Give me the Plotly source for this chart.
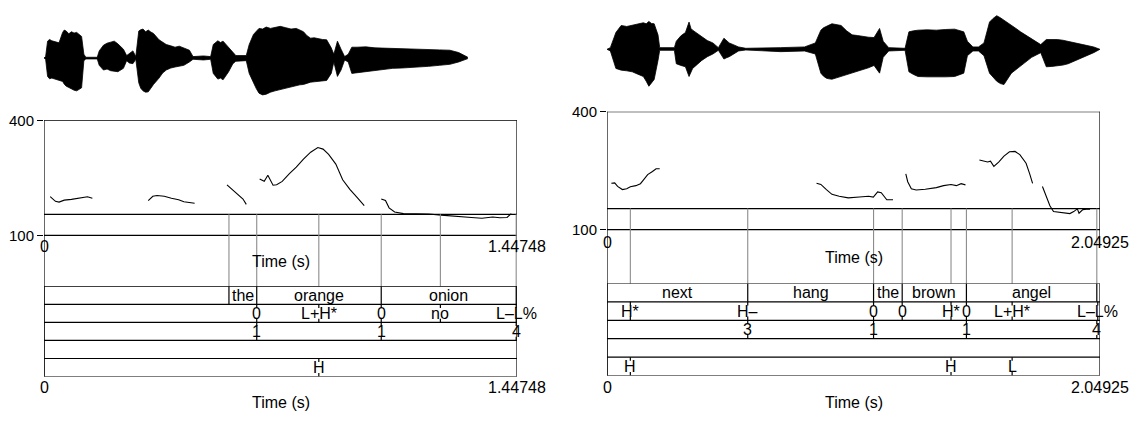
import plotly.graph_objects as go

W, H = 1144, 421
FONT = "Liberation Sans, Arial, Helvetica, sans-serif"

# ---------------- data ----------------
left_dur = 1.44748
right_dur = 2.04925

# waveform envelopes (time s, normalised amplitude)
lw_t = [0, .005, .011, .017, .024, .035, .046, .057, .062, .068, .076, .084, .092, .100, .108, .115, .122,
        .128, .163, .169, .182, .193, .204, .215, .226, .243, .253, .261, .272, .281, .290, .296, .303,
        .311, .319, .327, .335, .352, .363, .374, .388, .401, .414, .428, .445, .456, .488, .510, .518,
        .532, .540, .548, .565, .578, .587, .619, .628, .641, .650, .658, .669, .680, .693, .707, .723,
        .740, .756, .772, .783, .794, .805, .816, .827, .838, .852, .865, .879, .887, .898, .909, .920,
        .931, .942, .958, .985, 1.013, 1.040, 1.067, 1.095, 1.122, 1.150, 1.177, 1.210, 1.242, 1.269,
        1.297]
lw_up = [0, .04, .50, .55, .51, .47, .45, .76, .83, .80, .72, .78, .74, .76, .70, .64, .11,
         .02, .02, .21, .38, .44, .47, .50, .42, .26, .07, .13, .21, .04, .80, .84, .86,
         .78, .83, .77, .73, .54, .47, .40, .36, .32, .35, .30, .23, .04, .06, .04, .40,
         .51, .46, .50, .30, .16, .07, .07, .40, .70, .80, .88, .86, .92, .88, .90, .94,
         .90, .86, .88, .82, .78, .66, .59, .60, .57, .55, .54, .30, .11, .50, .26, .04,
         .11, .32, .32, .33, .30, .29, .27, .28, .26, .25, .24, .24, .23, .16,
         .02]
lw_lo = [0, -.04, -.55, -.62, -.60, -.63, -.65, -.70, -.78, -.84, -.88, -.93, -.96, -.98, -.92, -.89, -.08,
         -.03, -.03, -.22, -.36, -.33, -.38, -.40, -.41, -.31, -.08, -.15, -.17, -.04, -.74, -.90, -.98,
         -1.02, -1.01, -.90, -.79, -.60, -.45, -.36, -.30, -.27, -.25, -.22, -.12, -.04, -.06, -.04, -.46,
         -.63, -.60, -.65, -.41, -.17, -.10, -.08, -.46, -.74, -.92, -1.05, -1.10, -1.08, -1.02, -.98, -.94,
         -.89, -.86, -.82, -.80, -.79, -.75, -.72, -.71, -.70, -.68, -.67, -.46, -.12, -.55, -.36, -.06,
         -.12, -.46, -.44, -.40, -.36, -.34, -.31, -.30, -.29, -.27, -.25, -.22, -.19, -.12,
         -.02]

rw_t = [0, 0.014, 0.037, 0.048, 0.059, 0.082, 0.105, 0.128, 0.151, 0.163, 0.174, 0.185, 0.196, 0.212, 0.219,
        0.280, 0.288, 0.307, 0.326, 0.341, 0.349, 0.356, 0.375, 0.394, 0.417, 0.440, 0.463, 0.486, 0.497,
        0.508, 0.547, 0.577, 0.722, 0.821, 0.866, 0.889, 0.900, 0.912, 0.923, 0.935, 0.954, 0.973, 0.996,
        1.019, 1.041, 1.064, 1.087, 1.110, 1.133, 1.148, 1.171, 1.239, 1.255, 1.274, 1.293, 1.331, 1.369,
        1.407, 1.445, 1.483, 1.498, 1.521, 1.544, 1.567, 1.590, 1.605, 1.620, 1.635, 1.650, 1.681, 1.700,
        1.719, 1.742, 1.765, 1.803, 1.826, 1.849, 1.872, 1.895, 1.917, 1.948, 1.978, 2.023, 2.049]
rw_up = [0, .05, .50, .62, .71, .68, .71, .74, .79, .76, .83, .77, .76, .43, .05,
         .05, .24, .40, .50, .81, .62, .57, .48, .38, .26, .19, .05, .33, .26,
         .19, .07, .03, .05, .07, .19, .57, .64, .67, .72, .76, .74, .71, .55,
         .43, .41, .38, .36, .35, .62, .24, .05, .03, .52, .55, .57, .58, .57,
         .59, .60, .52, .24, .07, .07, .19, .81, .92, 1.0, .94, .86, .71, .62,
         .52, .42, .33, .14, .29, .30, .29, .27, .24, .19, .14, .07, 0]
rw_lo = [0, -.05, -.57, -.60, -.62, -.64, -.67, -.74, -.81, -.95, -1.10, -1.00, -.90, -.33, -.03,
         -.03, -.43, -.48, -.52, -.81, -.66, -.57, -.45, -.33, -.22, -.14, -.03, -.29, -.25,
         -.22, -.05, -.02, -.07, -.05, -.14, -.71, -.80, -.86, -.88, -.89, -.85, -.81, -.76,
         -.71, -.66, -.62, -.55, -.48, -.71, -.24, -.05, -.03, -.67, -.75, -.81, -.82, -.83,
         -.82, -.81, -.71, -.19, -.05, -.05, -.19, -.71, -.84, -.95, -1.02, -1.05, -.71, -.60,
         -.48, -.36, -.24, -.10, -.52, -.51, -.50, -.47, -.43, -.34, -.24, -.10, 0]

# pitch contours (Hz); None separates unvoiced gaps
left_pitch_t = [0.019, 0.035, 0.046, 0.062, 0.084, 0.101, 0.117, 0.133, 0.148, None,
                0.319, 0.333, 0.346, 0.368, 0.390, 0.412, 0.428, 0.445, 0.461, None,
                0.560, 0.576, 0.592, 0.609, 0.619, None,
                0.660, 0.674, 0.685, 0.701, 0.712, 0.729, 0.751, 0.772, 0.794, 0.816, 0.838, 0.854,
                0.871, 0.893, 0.914, 0.936, 0.958, 0.980, None,
                1.032, 1.045, 1.056, 1.073, 1.100, 1.138, 1.177, 1.215, 1.264, 1.308, 1.340, 1.373,
                1.395, 1.417, 1.430]
left_pitch_hz = [201, 189, 187, 192, 194, 197, 200, 201, 197, None,
                 191, 202, 204, 202, 197, 193, 188, 186, 184, None,
                 232, 220, 206, 195, 181, None,
                 247, 241, 257, 231, 232, 241, 261, 278, 299, 317, 329, 325, 311, 286, 245, 220, 199, 178, None,
                 195, 191, 172, 161, 157, 157, 156, 153, 149, 147, 145, 148, 146, 147, 157]

right_pitch_t = [0.018, 0.032, 0.044, 0.064, 0.082, 0.097, 0.120, 0.139, 0.151, 0.169, 0.189, 0.204, 0.219, None,
                 0.871, 0.889, 0.912, 0.935, 0.965, 1.003, 1.049, 1.087, 1.107, 1.125, 1.140, 1.163, 1.189, None,
                 1.242, 1.250, 1.265, 1.285, 1.323, 1.369, 1.399, 1.430, 1.452, 1.472, 1.490, None,
                 1.548, 1.567, 1.582, 1.594, 1.608, 1.628, 1.650, 1.673, 1.696, 1.716, 1.742, 1.757, 1.769, None,
                 1.810, 1.826, 1.841, 1.856, 1.886, 1.924, 1.940, 1.955, 1.962, 1.978, 1.993, 2.008]
right_pitch_hz = [218, 219, 210, 202, 204, 209, 212, 217, 226, 240, 248, 255, 255, None,
                  218, 215, 202, 190, 185, 181, 183, 185, 183, 196, 194, 176, 176, None,
                  242, 222, 204, 201, 203, 207, 212, 215, 212, 217, 214, None,
                  277, 274, 272, 274, 261, 272, 287, 298, 299, 291, 269, 242, 218, None,
                  210, 185, 161, 146, 143, 141, 146, 153, 142, 151, 152, 152]

pitch_ticks = [100, 400]

# TextGrid tiers
left_word_edges = [0.0, 0.566, 0.651, 1.032, 1.445]
left_words = ["", "the", "orange", "onion"]
left_tone_t = [0.651, 0.841, 1.032, 1.213, 1.445]
left_tones = ["0", "L+H*", "0", "no", "L–L%"]
left_break_t = [0.651, 1.032, 1.445]
left_breaks = ["1", "1", "4"]
left_misc_t, left_misc = [], []
left_phr_t = [0.841]
left_phr = ["H"]
left_gray_t = [0.566, 0.651, 0.841, 1.032, 1.213, 1.445]

right_word_edges = [0.0, 0.585, 1.108, 1.227, 1.494, 2.036]
right_words = ["next", "hang", "the", "brown", "angel"]
right_tone_t = [0.097, 0.585, 1.108, 1.227, 1.430, 1.494, 1.684, 2.040]
right_tones = ["H*", "H–", "0", "0", "H*", "0", "L+H*", "L–L%"]
right_break_t = [0.585, 1.108, 1.494, 2.036]
right_breaks = ["3", "1", "1", "4"]
right_misc_t, right_misc = [], []
right_phr_t = [0.097, 1.430, 1.684]
right_phr = ["H", "H", "L"]
right_gray_t = [0.097, 0.585, 1.108, 1.227, 1.430, 1.494, 1.684, 2.036]


# ---------------- drawing ----------------
def py(y):
    return 1 - y / H


fig = go.Figure()
shapes, anns = [], []
layout = {}


def line(x0, y0, x1, y1, xref, yref, color="black", width=1.2):
    shapes.append(dict(type="line", x0=x0, y0=y0, x1=x1, y1=y1, xref=xref, yref=yref,
                       line=dict(color=color, width=width), layer="above"))


def text(x, y, s, xref, yref, size=16, xanchor="center"):
    anns.append(dict(x=x, y=y, text=s, xref=xref, yref=yref, showarrow=False,
                     xanchor=xanchor, yanchor="middle",
                     font=dict(family=FONT, size=size, color="black")))


def hidden(domain, rng, anchor):
    return dict(domain=domain, range=rng, showgrid=False, zeroline=False, showline=False,
                showticklabels=False, ticks="", fixedrange=True, anchor=anchor)


def name(n, a):
    return a + ("" if n == 1 else str(n))


def panel(idx, g, wt, wu, wl, pt, ph, tiers, gray_t):
    b = idx * 3
    n_w, n_p, n_t = b + 1, b + 2, b + 3
    dur = g["dur"]
    xd = [g["xl"] / W, g["xr"] / W]

    # waveform
    c, h = g["wc"], g["wh"]
    rng = h / 35.0
    xw, yw = name(n_w, "x"), name(n_w, "y")
    layout[name(n_w, "xaxis")] = hidden(xd, [0, dur], yw)
    layout[name(n_w, "yaxis")] = hidden([py(c + h), py(c - h)], [-rng, rng], xw)
    fig.add_trace(go.Scatter(x=wt, y=wl, mode="lines", line=dict(color="black", width=0.8),
                             xaxis=xw, yaxis=yw, hoverinfo="skip"))
    fig.add_trace(go.Scatter(x=wt, y=wu, mode="lines", line=dict(color="black", width=0.8),
                             fill="tonexty", fillcolor="black",
                             xaxis=xw, yaxis=yw, hoverinfo="skip"))

    # pitch
    xp, yp = name(n_p, "x"), name(n_p, "y")
    layout[name(n_p, "xaxis")] = hidden(xd, [0, dur], yp)
    layout[name(n_p, "yaxis")] = dict(domain=[py(g["pbot"]), py(g["ptop"])], range=[100, 400],
                                      anchor=xp, side="left",
                                      tickvals=pitch_ticks, ticktext=[str(v) for v in pitch_ticks],
                                      ticks="outside", ticklen=6, tickwidth=1.2, tickcolor="black",
                                      showgrid=False, zeroline=False, showline=False,
                                      tickfont=dict(family=FONT, size=15, color="black"),
                                      fixedrange=True)
    fig.add_trace(go.Scatter(x=pt, y=ph, mode="lines", connectgaps=False,
                             line=dict(color="black", width=1.1),
                             xaxis=xp, yaxis=yp, hoverinfo="skip"))
    # frame
    line(0, 400, dur, 400, xp, yp)
    line(0, py(g["tline"]), dur, py(g["tline"]), xp, "paper")
    line(0, py(g["pbot"]), dur, py(g["pbot"]), xp, "paper")
    line(0, py(g["ptop"]), 0, py(g["tbot"]), xp, "paper")
    line(dur, py(g["ptop"]), dur, py(g["axlab"] + 6), xp, "paper")
    text(0, py(g["axlab"]), "0", xp, "paper")
    text(dur, py(g["axlab"]), f"{dur:g}", xp, "paper")
    text(dur / 2, py(g["axtitle"]), "Time (s)", xp, "paper")

    # tiers
    xt, yt = name(n_t, "x"), name(n_t, "y")
    layout[name(n_t, "xaxis")] = hidden(xd, [0, dur], yt)
    layout[name(n_t, "yaxis")] = hidden([py(g["tbot"]), py(g["ttop"])], [5, 0], xt)
    for gt in gray_t:
        line(gt, py(g["tline"]), gt, py(g["ttop"]), xt, "paper", color="#8c8c8c", width=1.1)
    for row in range(6):
        line(0, row, dur, row, xt, yt)
    line(0, 0, 0, 5, xt, yt)
    line(dur, 0, dur, 5, xt, yt)
    for row, tier in enumerate(tiers):
        kind, a, labels = tier
        if kind == "interval":
            for e in a[1:-1]:
                line(e, row, e, row + 1, xt, yt)
            if a[-1] < dur:
                line(a[-1], row, a[-1], row + 1, xt, yt)
            for i, lab in enumerate(labels):
                if lab:
                    text((a[i] + a[i + 1]) / 2, row + 0.5, lab, xt, yt)
        else:
            for t, lab in zip(a, labels):
                line(t, row, t, row + 0.2, xt, yt)
                line(t, row + 0.8, t, row + 1, xt, yt)
                text(t, row + 0.5, lab, xt, yt)
    text(0, py(g["blab"]), "0", xt, "paper")
    text(dur, py(g["blab"]), f"{dur:g}", xt, "paper")
    text(dur / 2, py(g["btitle"]), "Time (s)", xt, "paper")


LG = dict(xl=44, xr=517, wc=51, wh=42, ptop=116, pbot=236, tline=214, axlab=248, axtitle=263,
          ttop=289, tbot=383, blab=394, btitle=410, dur=left_dur)
RG = dict(xl=607, xr=1100, wc=42, wh=41, ptop=107, pbot=230, tline=208, axlab=243, axtitle=259,
          ttop=286, tbot=382, blab=394, btitle=410, dur=right_dur)

panel(0, LG, lw_t, lw_up, lw_lo, left_pitch_t, left_pitch_hz,
      [("interval", left_word_edges, left_words),
       ("point", left_tone_t, left_tones),
       ("point", left_break_t, left_breaks),
       ("point", left_misc_t, left_misc),
       ("point", left_phr_t, left_phr)], left_gray_t)
panel(1, RG, rw_t, rw_up, rw_lo, right_pitch_t, right_pitch_hz,
      [("interval", right_word_edges, right_words),
       ("point", right_tone_t, right_tones),
       ("point", right_break_t, right_breaks),
       ("point", right_misc_t, right_misc),
       ("point", right_phr_t, right_phr)], right_gray_t)

fig.update_layout(width=W, height=H, margin=dict(l=0, r=0, t=0, b=0),
                  paper_bgcolor="white", plot_bgcolor="white", showlegend=False,
                  shapes=shapes, annotations=anns, **layout)

fig.write_html("out.html")
